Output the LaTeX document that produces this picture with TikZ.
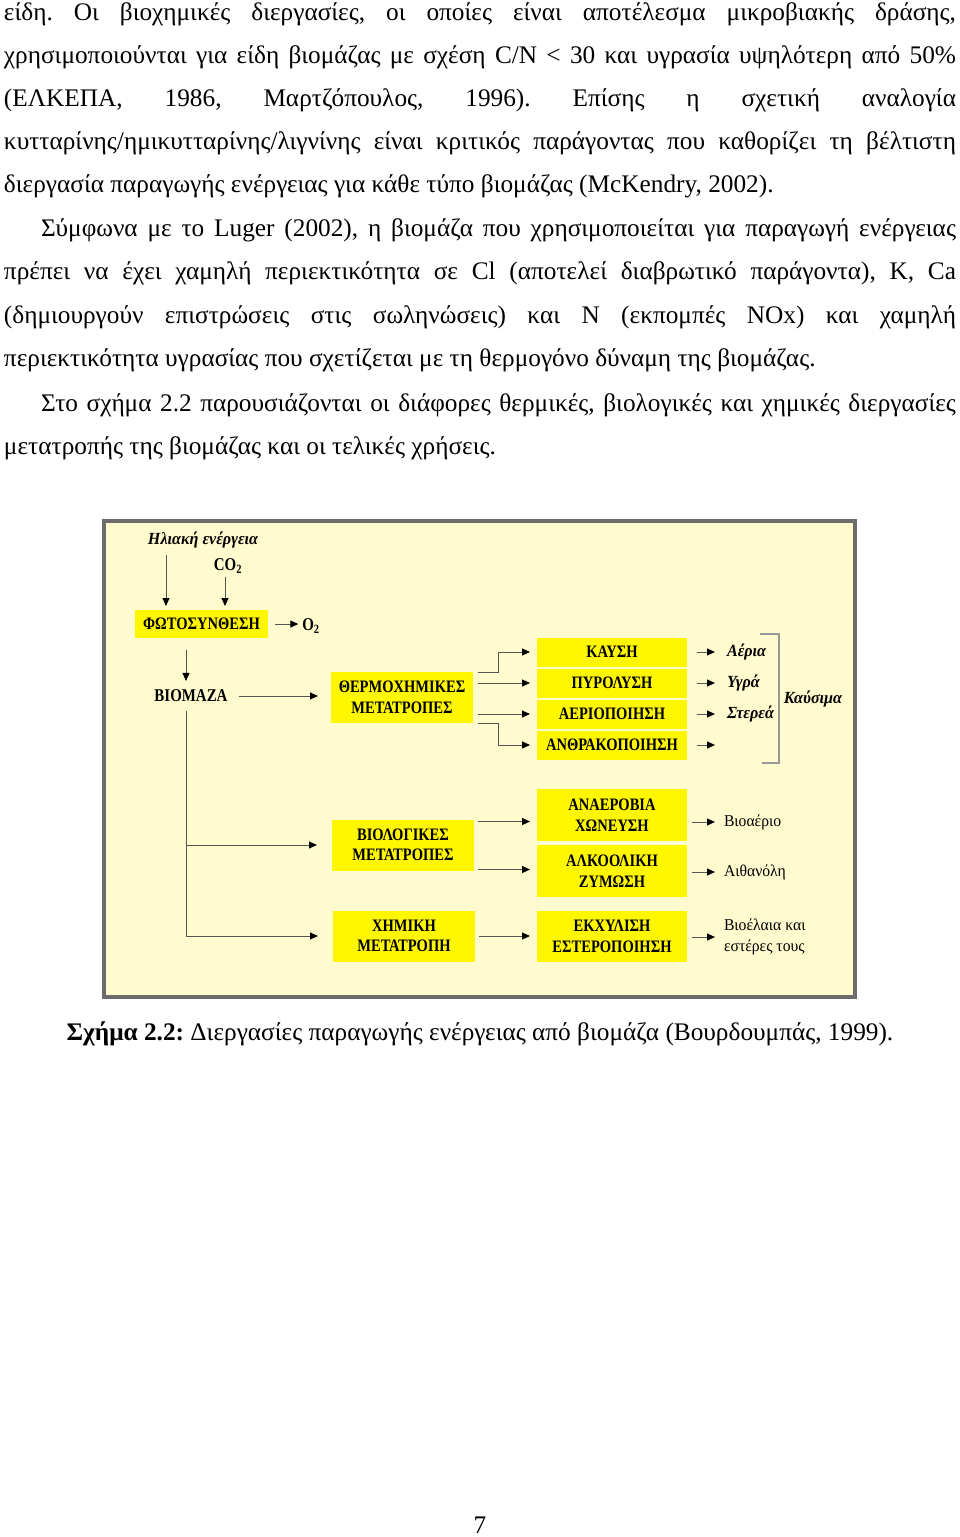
\documentclass[tikz,border=0pt]{standalone}
\usepackage{fontspec}
\setmainfont{Liberation Serif}
\newfontfamily\flowfont[FakeStretch=0.83]{Liberation Serif}
\newfontfamily\noteflow[FakeStretch=0.95]{Liberation Serif}
\usetikzlibrary{arrows.meta}

\definecolor{boxyellow}{RGB}{255,247,0}
\definecolor{panelcream}{RGB}{255,251,206}
\definecolor{framegray}{RGB}{108,108,108}
\definecolor{wiregray}{RGB}{85,85,85}

\newcommand{\pagetext}{\frenchspacing\fontsize{25.3}{30}\selectfont}
\newcommand{\justline}[2]{\makebox[#1][s]{#2}}

\begin{document}
\begin{tikzpicture}[x=1pt,y=-1pt]
                    \tikzset{every node/.style={inner sep=0pt, outer sep=0pt},
                        textline/.style={anchor=base west, font=\pagetext},
                        panel/.style={fill=panelcream, draw=framegray, line width=4pt, minimum width=751pt, minimum height=476pt},
                        proc/.style={fill=boxyellow, align=center, font=\flowfont\bfseries\fontsize{17.5}{20.5}\selectfont, minimum width=150pt, minimum height=29pt},
                        wideproc/.style={proc, minimum width=142pt, minimum height=51pt},
                        caps/.style={font=\flowfont\bfseries\fontsize{18}{20}\selectfont},
                        lbl/.style={font=\noteflow\bfseries\itshape\fontsize{17}{19}\selectfont},
                        yield/.style={anchor=west, align=left, font=\noteflow\fontsize{16.5}{21}\selectfont},
                        arr/.style={draw=wiregray, line width=0.9pt, -{Triangle[length=8pt,width=7pt,color=black]}},
                        brace/.style={draw=framegray!70, line width=1.2pt}}
                    \useasboundingbox (0,0) rectangle (960,1537);
                    % text above the figure
                    \node[textline] (par1a) at (4,20) {\justline{952pt}{είδη. Οι βιοχημικές διεργασίες, οι οποίες είναι αποτέλεσμα μικροβιακής δράσης,}};
                    \node[textline] (par1b) at (4,63) {\justline{952pt}{χρησιμοποιούνται για είδη βιομάζας με σχέση C/N < 30 και υγρασία υψηλότερη από 50\%}};
                    \node[textline] (par1c) at (4,106) {\justline{952pt}{(ΕΛΚΕΠΑ, 1986, Μαρτζόπουλος, 1996). Επίσης η σχετική αναλογία}};
                    \node[textline] (par1d) at (4,149) {\justline{952pt}{κυτταρίνης/ημικυτταρίνης/λιγνίνης είναι κριτικός παράγοντας που καθορίζει τη βέλτιστη}};
                    \node[textline] (par1e) at (4,192) {διεργασία παραγωγής ενέργειας για κάθε τύπο βιομάζας (McKendry, 2002).};
                    \node[textline] (par2a) at (41,236) {\justline{915pt}{Σύμφωνα με το Luger (2002), η βιομάζα που χρησιμοποιείται για παραγωγή ενέργειας}};
                    \node[textline] (par2b) at (4,279) {\justline{952pt}{πρέπει να έχει χαμηλή περιεκτικότητα σε Cl (αποτελεί διαβρωτικό παράγοντα), K, Ca}};
                    \node[textline] (par2c) at (4,323) {\justline{952pt}{(δημιουργούν επιστρώσεις στις σωληνώσεις) και N (εκπομπές NOx) και χαμηλή}};
                    \node[textline] (par2d) at (4,366) {περιεκτικότητα υγρασίας που σχετίζεται με τη θερμογόνο δύναμη της βιομάζας.};
                    \node[textline] (par3a) at (41,411) {\justline{915pt}{Στο σχήμα 2.2 παρουσιάζονται οι διάφορες θερμικές, βιολογικές και χημικές διεργασίες}};
                    \node[textline] (par3b) at (4,454) {μετατροπής της βιομάζας και οι τελικές χρήσεις.};
                    % figure
                    \node[panel] (panel) at (479.5,759) {};
                    \node[lbl] (sun) at (203,540) {Ηλιακή ενέργεια};
                    \node[caps] (co2) at (228,566) {CO\textsubscript{2}};
                    \node[proc, minimum width=133pt, minimum height=28pt] (photo) at (201.5,624) {ΦΩΤΟΣΥΝΘΕΣΗ};
                    \node[caps] (o2) at (311,626) {O\textsubscript{2}};
                    \node[caps] (biomass) at (191,696) {ΒΙΟΜΑΖΑ};
                    \node[wideproc] (thermo) at (402,697.5) {ΘΕΡΜΟΧΗΜΙΚΕΣ\\ΜΕΤΑΤΡΟΠΕΣ}; %thermal
                    \node[wideproc] (bio) at (403,845) {ΒΙΟΛΟΓΙΚΕΣ\\ΜΕΤΑΤΡΟΠΕΣ}; %biological
                    \node[wideproc] (chem) at (404,936) {ΧΗΜΙΚΗ\\ΜΕΤΑΤΡΟΠΗ}; %chemical
                    \node[proc] (kaysi) at (612,652) {ΚΑΥΣΗ};
                    \node[proc] (pyro) at (612,683) {ΠΥΡΟΛΥΣΗ};
                    \node[proc] (aerio) at (612,714) {ΑΕΡΙΟΠΟΙΗΣΗ};
                    \node[proc] (anthr) at (612,745) {ΑΝΘΡΑΚΟΠΟΙΗΣΗ};
                    \node[proc, minimum height=52pt] (anaer) at (612,815) {ΑΝΑΕΡΟΒΙΑ\\ΧΩΝΕΥΣΗ};
                    \node[proc, minimum height=52pt] (alko) at (612,871) {ΑΛΚΟΟΛΙΚΗ\\ΖΥΜΩΣΗ};
                    \node[proc, minimum height=51pt] (ekxy) at (612,936.5) {ΕΚΧΥΛΙΣΗ\\ΕΣΤΕΡΟΠΟΙΗΣΗ};
                    \node[lbl, anchor=west] (gas) at (727,652) {Αέρια};
                    \node[lbl, anchor=west] (liquid) at (727,683) {Υγρά};
                    \node[lbl, anchor=west] (solid) at (727,714) {Στερεά};
                    \node[lbl] (fuels) at (813,699) {Καύσιμα};
                    \node[yield] (biogas) at (724,822) {Βιοαέριο};
                    \node[yield] (ethanol) at (724,872) {Αιθανόλη};
                    \node[yield] (biodiesel) at (724,937) {Βιοέλαια και\\εστέρες τους};
                    \node[anchor=base, font=\pagetext] (caption) at (480,1040) {\textbf{Σχήμα 2.2:} Διεργασίες παραγωγής ενέργειας από βιομάζα (Βουρδουμπάς, 1999).};
                    \node[anchor=base, font=\pagetext] (pageno) at (480,1533) {7};
                    % connectors
                    \coordinate (sunline) at (166,0);
                    \coordinate (co2line) at (225,0);
                    \coordinate (trunk) at (186,0);
                    \coordinate (thermojoint) at (498,0);
                    \coordinate (bioup) at ([yshift=-2pt]bio.north east);
                    \coordinate (biodown) at ([yshift=1pt]bio.south east);
                    \coordinate (charend) at ([xshift=28pt]anthr.east);
                    \draw[arr, shorten <=7pt, shorten >=4pt] (sunline |- sun.south) -- (sunline |- photo.north);
                    \draw[arr, shorten <=4pt, shorten >=4pt] (co2line |- co2.south) -- (co2line |- photo.north);
                    \draw[arr, shorten <=7pt, shorten >=4pt] (photo.east) -- (photo.east -| o2.west);
                    \draw[arr, shorten <=12pt, shorten >=9pt] (trunk |- photo.south) -- (trunk |- biomass.north);
                    \draw[arr, shorten <=11pt, shorten >=13pt] (biomass.east) -- (biomass.east -| thermo.west);
                    \draw[arr, shorten <=9pt, shorten >=15pt] (trunk |- biomass.south) |- (chem.west);
                    \draw[arr, shorten >=15pt] (trunk |- bio.west) -- (bio.west);
                    \draw[arr, shorten <=5pt, shorten >=7pt] (thermo.north east) -- (thermojoint |- thermo.north east) |- (kaysi.west);
                    \draw[arr, shorten <=5pt, shorten >=7pt] (thermo.east |- pyro.west) -- (pyro.west);
                    \draw[arr, shorten <=5pt, shorten >=7pt] (thermo.east |- aerio.west) -- (aerio.west);
                    \draw[arr, shorten <=5pt, shorten >=7pt] (thermo.south east) -- (thermojoint |- thermo.south east) |- (anthr.west);
                    \draw[arr, shorten <=4pt, shorten >=7pt] (bioup) -- (bioup -| anaer.west);
                    \draw[arr, shorten <=4pt, shorten >=7pt] (biodown) -- (biodown -| alko.west);
                    \draw[arr, shorten <=4pt, shorten >=7pt] (chem.east) -- (chem.east -| ekxy.west);
                    \draw[arr, shorten <=10pt, shorten >=12pt] (kaysi.east) -- (gas.west);
                    \draw[arr, shorten <=10pt, shorten >=12pt] (pyro.east) -- (liquid.west);
                    \draw[arr, shorten <=10pt, shorten >=12pt] (aerio.east) -- (solid.west);
                    \draw[arr, shorten <=10pt] (anthr.east) -- (charend);
                    \draw[arr, shorten <=5pt, shorten >=9pt] (anaer.east |- biogas.west) -- (biogas.west);
                    \draw[arr, shorten <=5pt, shorten >=9pt] (alko.east |- ethanol.west) -- (ethanol.west);
                    \draw[arr, shorten <=5pt, shorten >=9pt] (ekxy.east |- biodiesel.west) -- (biodiesel.west);
                    % bracket round the fuels
                    \draw[brace] (760,634) -- (779,634) -- (779,763) -- (762,763);
                \end{tikzpicture}
\end{document}
